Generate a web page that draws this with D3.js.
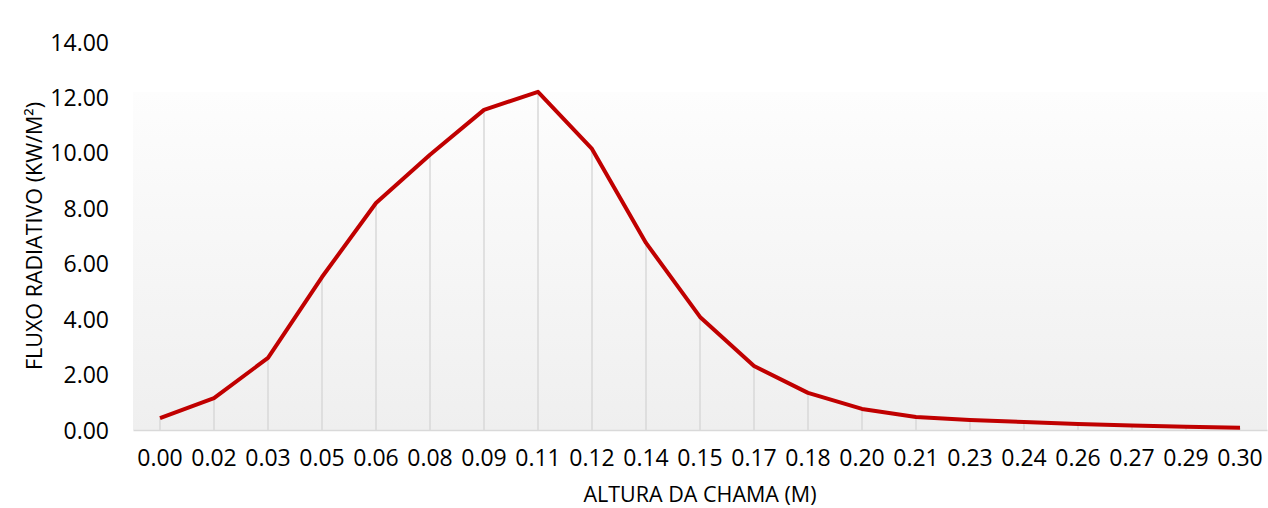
<!DOCTYPE html>
<meta charset="utf-8">
<head>
<title>Fluxo radiativo</title>
<script src="https://cdn.jsdelivr.net/npm/d3@7"></script>
<style>
  body { margin: 0; background: #fff; }
  text { font-family: "Open Sans", sans-serif; fill: #000; }
  .tick text { font-size: 23px; }
  .title { font-size: 21.5px; }
</style>
</head>
<body>
<div id="chart"></div>
<script>
// data
var alturas = ["0.00","0.02","0.03","0.05","0.06","0.08","0.09","0.11","0.12","0.14",
               "0.15","0.17","0.18","0.20","0.21","0.23","0.24","0.26","0.27","0.29","0.30"];
var fluxo = [0.43, 1.15, 2.6, 5.52, 8.19, 9.93, 11.55, 12.2, 10.14, 6.75,
             4.08, 2.31, 1.34, 0.76, 0.47, 0.36, 0.29, 0.22, 0.16, 0.12, 0.08];
var yTicks = [0, 2, 4, 6, 8, 10, 12, 14];

var W = 1268, H = 508;
var margin = {top: 42, right: 1, bottom: 78, left: 133};
var width = W - margin.left - margin.right,
    height = H - margin.top - margin.bottom;

var svg = d3.select("#chart").append("svg")
    .attr("width", W).attr("height", H);

var defs = svg.append("defs");
var grad = defs.append("linearGradient").attr("id", "bg")
    .attr("x1", 0).attr("y1", 0).attr("x2", 0).attr("y2", 1);
grad.append("stop").attr("offset", "0%").attr("stop-color", "#fdfdfd");
grad.append("stop").attr("offset", "100%").attr("stop-color", "#efefef");

var g = svg.append("g")
    .attr("transform", "translate(" + margin.left + "," + margin.top + ")");

var x = d3.scaleBand().domain(alturas).range([0, width]);
var y = d3.scaleLinear().domain([0, 14]).range([height, 0]);

// plot area fill (starts a little under the top tick, like the original)
g.append("rect")
    .attr("x", 0).attr("y", 50)
    .attr("width", width).attr("height", height - 50)
    .attr("fill", "url(#bg)");

// drop lines
g.selectAll(".drop")
    .data(fluxo)
    .enter().append("line")
    .attr("class", "drop")
    .attr("x1", function(d, i){ return x(alturas[i]) + x.bandwidth()/2; })
    .attr("x2", function(d, i){ return x(alturas[i]) + x.bandwidth()/2; })
    .attr("y1", function(d){ return y(d); })
    .attr("y2", y(0))
    .attr("stroke", "#d9d9d9")
    .attr("stroke-width", 1.5);

// axes
var yAxis = g.append("g")
    .call(d3.axisLeft(y).tickValues(yTicks).tickFormat(d3.format(".2f")).tickSize(0).tickPadding(24));
yAxis.select(".domain").remove();
yAxis.selectAll(".tick text").attr("dy", "0.35em");

var xAxis = g.append("g")
    .attr("transform", "translate(0," + height + ")")
    .call(d3.axisBottom(x).tickSize(0).tickPadding(20));
xAxis.select(".domain").attr("stroke", "#d9d9d9").attr("stroke-width", 1.5);

// line
var line = d3.line()
    .x(function(d, i){ return x(alturas[i]) + x.bandwidth()/2; })
    .y(function(d){ return y(d); });

g.append("path")
    .datum(fluxo)
    .attr("d", line)
    .attr("fill", "none")
    .attr("stroke", "#c00000")
    .attr("stroke-width", 4)
    .attr("stroke-linejoin", "round");

// axis titles
svg.append("text")
    .attr("class", "title")
    .attr("text-anchor", "middle")
    .attr("transform", "translate(42," + (margin.top + height/2) + ") rotate(-90)")
    .text("FLUXO RADIATIVO (KW/M²)");

svg.append("text")
    .attr("class", "title")
    .attr("text-anchor", "middle")
    .attr("x", margin.left + width/2 - 0)
    .attr("y", 502)
    .text("ALTURA DA CHAMA (M)");
</script>
</body>
</html>
